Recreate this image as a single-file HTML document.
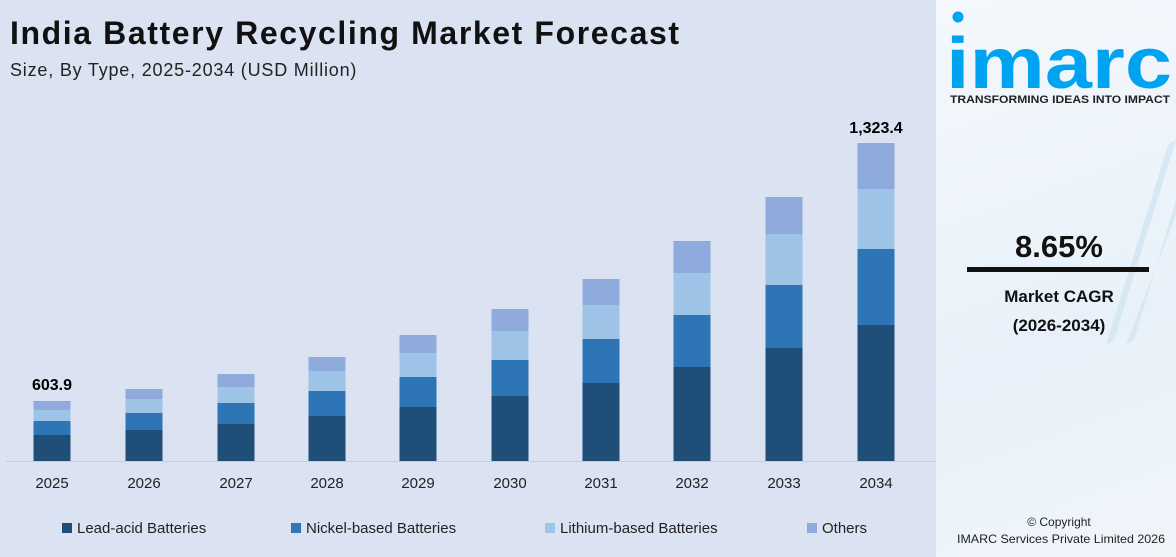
<!DOCTYPE html>
<html><head><meta charset="utf-8"><style>
body{margin:0;width:1176px;height:557px;overflow:hidden;font-family:"Liberation Sans",sans-serif;background:#dbe3f2;position:relative}
.t{position:absolute;white-space:nowrap}
</style></head><body>
<div class="t" style="left:10px;top:15px;font-size:32px;font-weight:bold;color:#111;letter-spacing:1.6px">India Battery Recycling Market Forecast</div>
<div class="t" style="left:10px;top:60px;font-size:18px;color:#222;letter-spacing:0.8px">Size, By Type, 2025-2034 (USD Million)</div>
<svg width="936" height="557" style="position:absolute;left:0;top:0">
<line x1="6" y1="461.5" x2="936" y2="461.5" stroke="#c8ccd4" stroke-width="1"/>
<g id="bars"></g>
<text x="52" y="390" text-anchor="middle" font-size="16" font-weight="bold" font-family="Liberation Sans">603.9</text>
<text x="876" y="133" text-anchor="middle" font-size="16" font-weight="bold" font-family="Liberation Sans">1,323.4</text>
<g font-size="15" font-family="Liberation Sans" fill="#222" text-anchor="middle">
<text x="52" y="488">2025</text><text x="144" y="488">2026</text><text x="236" y="488">2027</text><text x="327" y="488">2028</text><text x="418" y="488">2029</text><text x="510" y="488">2030</text><text x="601" y="488">2031</text><text x="692" y="488">2032</text><text x="784" y="488">2033</text><text x="876" y="488">2034</text>
</g>
<g font-size="15" font-family="Liberation Sans" fill="#222">
<rect x="62" y="523" width="10" height="10" fill="#1f4e79"/><text x="77" y="533">Lead-acid Batteries</text>
<rect x="291" y="523" width="10" height="10" fill="#2e75b6"/><text x="306" y="533">Nickel-based Batteries</text>
<rect x="545" y="523" width="10" height="10" fill="#9dc3e6"/><text x="560" y="533">Lithium-based Batteries</text>
<rect x="807" y="523" width="10" height="10" fill="#8faadc"/><text x="822" y="533">Others</text>
</g>
</svg>
<div style="position:absolute;left:936px;top:0;width:240px;height:557px;background:linear-gradient(160deg,#f4f8fc,#e8f1f9 60%,#f0f5fa)"></div>
<svg width="240" height="557" style="position:absolute;left:936px;top:0">
<g fill="#d3e6f5" opacity="0.8">
<polygon points="170,345 178,340 240,140 232,145"/>
<polygon points="190,345 198,340 240,200 240,215"/>
</g>
<circle cx="22" cy="17" r="5.5" fill="#00a3ef"/>
<text x="10" y="88" font-size="72" font-weight="bold" fill="#00a3ef" font-family="Liberation Sans" textLength="226" lengthAdjust="spacingAndGlyphs">imarc</text>
<text x="14" y="103" font-size="11" font-weight="bold" fill="#222" font-family="Liberation Sans" textLength="220" lengthAdjust="spacingAndGlyphs">TRANSFORMING IDEAS INTO IMPACT</text>
<text x="123" y="257" text-anchor="middle" font-size="31" font-weight="bold" fill="#111" font-family="Liberation Sans">8.65%</text>
<rect x="31" y="267" width="182" height="5" fill="#111"/>
<text x="123" y="302" text-anchor="middle" font-size="17" font-weight="bold" fill="#111" font-family="Liberation Sans">Market CAGR</text>
<text x="123" y="331" text-anchor="middle" font-size="17" font-weight="bold" fill="#111" font-family="Liberation Sans">(2026-2034)</text>
<text x="123" y="526" text-anchor="middle" font-size="12" fill="#222" font-family="Liberation Sans">© Copyright</text>
<text x="21" y="543" font-size="12" fill="#222" font-family="Liberation Sans" textLength="208" lengthAdjust="spacingAndGlyphs">IMARC Services Private Limited 2026</text>
</svg>
<script>
var d=[[52,401,410,421,435],[144,389,399,413,430],[236,374,387,403,424],[327,357,371,391,416],[418,335,353,377,407],[510,309,331,360,396],[601,279,305,339,383],[692,241,273,315,367],[784,197,234,285,348],[876,143,189,249,325]];
var c=["#8faadc","#9dc3e6","#2e75b6","#1f4e79"],s="";
d.forEach(function(b){var ys=[b[1],b[2],b[3],b[4],461];for(var i=0;i<4;i++)s+='<rect x="'+(b[0]-18.5)+'" y="'+ys[i]+'" width="37" height="'+(ys[i+1]-ys[i])+'" fill="'+c[i]+'"/>';});
document.getElementById("bars").innerHTML=s;
</script>
</body></html>
